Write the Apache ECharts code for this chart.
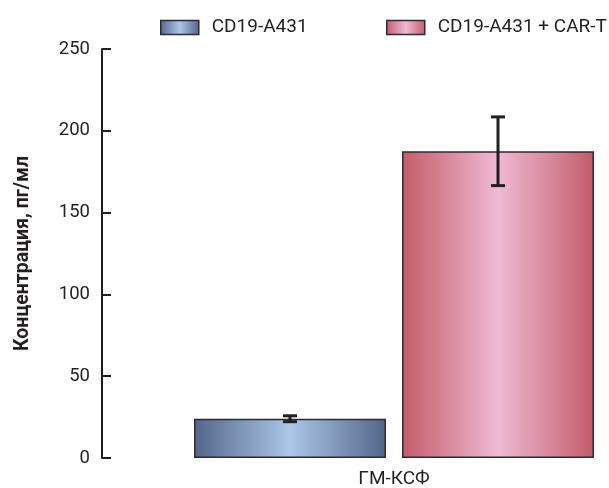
<!DOCTYPE html>
<html>
<head>
<meta charset="utf-8">
<script src="https://cdn.jsdelivr.net/npm/echarts@6/dist/echarts.min.js"></script>
<style>
  html, body { margin: 0; padding: 0; background: #fff; }
  #chart { width: 609px; height: 488px; }
</style>
</head>
<body>
<div id="chart"></div>
<script>
// Cytokine concentration, pg/ml
const categories = ['ГМ-КСФ'];
const seriesNames = ['CD19-A431', 'CD19-A431 + CAR-T'];
const meanValues = [[24], [187.5]];
const errorValues = [[1.8], [21]];
const yTicks = [0, 50, 100, 150, 200, 250];

const FONT = 'Roboto, "Noto Sans", sans-serif';
const BAR_W = 192;
const BAR_GAP = 16;

function hGrad(edge, mid) {
  return new echarts.graphic.LinearGradient(0, 0, 1, 0, [
    { offset: 0, color: edge },
    { offset: 0.5, color: mid },
    { offset: 1, color: edge }
  ]);
}
const fills = [hGrad('#536689', '#abc6e6'), hGrad('#c35c68', '#eebad3')];

const chart = echarts.init(document.getElementById('chart'), null, { renderer: 'canvas' });

const barSeries = seriesNames.map((name, i) => ({
  name: name,
  type: 'bar',
  data: meanValues[i],
  barWidth: BAR_W,
  barGap: (BAR_GAP / BAR_W * 100) + '%',
  itemStyle: { color: fills[i], borderColor: '#2b2b33', borderWidth: 1.5 },
  z: 2
}));

const errorSeries = seriesNames.map((name, i) => ({
  type: 'custom',
  name: name + ' err',
  data: meanValues[i].map((m, k) => [k, m, errorValues[i][k]]),
  z: 5,
  silent: true,
  renderItem: function (params, api) {
    const k = api.value(0), m = api.value(1), e = api.value(2);
    const shift = (i === 0 ? -1 : 1) * (BAR_W + BAR_GAP) / 2;
    const hi = api.coord([k, m + e]);
    const lo = api.coord([k, m - e]);
    const x = hi[0] + shift;
    const cap = 7;
    const style = { stroke: '#231f20', lineWidth: 3 };
    return {
      type: 'group',
      children: [
        { type: 'line', shape: { x1: x, y1: hi[1], x2: x, y2: lo[1] }, style: style },
        { type: 'line', shape: { x1: x - cap, y1: hi[1], x2: x + cap, y2: hi[1] }, style: style },
        { type: 'line', shape: { x1: x - cap, y1: lo[1], x2: x + cap, y2: lo[1] }, style: style }
      ]
    };
  }
}));

const legendCommon = {
  top: 13,
  itemWidth: 38,
  itemHeight: 14,
  itemGap: 16,
  icon: 'rect',
  textStyle: { fontFamily: FONT, fontSize: 19, color: '#231f20', padding: [0, 0, 0, 8] }
};

chart.setOption({
  animation: false,
  backgroundColor: '#ffffff',
  legend: [
    Object.assign({}, legendCommon, { left: 155, data: [{ name: seriesNames[0], itemStyle: { color: fills[0], borderColor: '#2b2b33', borderWidth: 1.5 } }] }),
    Object.assign({}, legendCommon, { left: 381, data: [{ name: seriesNames[1], itemStyle: { color: fills[1], borderColor: '#2b2b33', borderWidth: 1.5 } }] })
  ],
  grid: { left: 186, right: 7, top: 49, bottom: 30, containLabel: false, outerBoundsMode: 'none' },
  xAxis: {
    type: 'category',
    data: categories,
    axisLine: { show: false },
    axisTick: { show: false },
    axisLabel: { fontFamily: FONT, fontSize: 19, color: '#231f20', margin: 12 }
  },
  yAxis: {
    type: 'value',
    min: yTicks[0],
    max: yTicks[yTicks.length - 1],
    interval: yTicks[1] - yTicks[0],
    offset: 84,
    name: 'Концентрация, пг/мл',
    nameLocation: 'middle',
    nameGap: 69,
    nameRotate: 90,
    nameTextStyle: { fontFamily: FONT, fontSize: 19.5, fontWeight: 'bold', color: '#231f20' },
    axisLine: { show: true, lineStyle: { color: '#231f20', width: 2 } },
    axisTick: { show: true, inside: true, length: 9, lineStyle: { color: '#231f20', width: 2 } },
    axisLabel: { fontFamily: FONT, fontSize: 18.5, color: '#231f20', margin: 12 },
    splitLine: { show: false }
  },
  series: barSeries.concat(errorSeries)
});
</script>
</body>
</html>
